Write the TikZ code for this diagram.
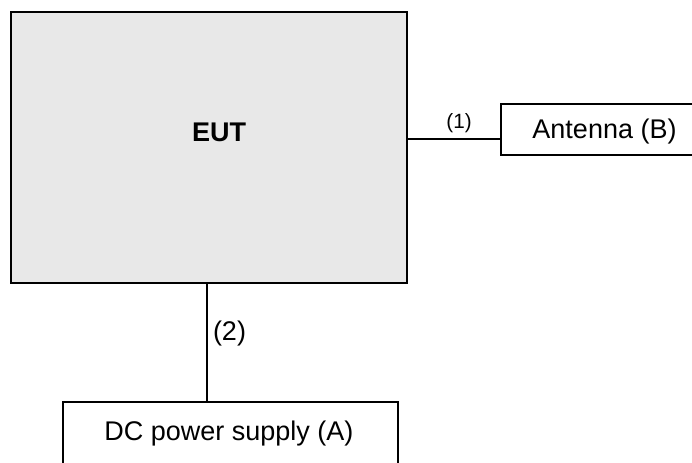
\documentclass[tikz,border=0pt]{standalone}
\usepackage{fontspec}
\setmainfont{Liberation Sans}
\definecolor{eutgray}{HTML}{E8E8E8}
\begin{document}
\begin{tikzpicture}[x=0.75pt,y=-0.75pt,
  box/.style={draw=black, line width=1.1pt, inner sep=0pt, outer sep=0pt, anchor=north west},
  wire/.style={draw=black, line width=0.8pt},
  lbl/.style={inner sep=0pt, font=\fontsize{20.25}{24}\selectfont},
  smalllbl/.style={inner sep=0pt, font=\fontsize{15.5}{18}\selectfont}]
\path[use as bounding box] (0,0) rectangle (692,462);
\clip (0,0) rectangle (692,462);
% boxes
\node[box, fill=eutgray, minimum width=297pt, minimum height=203.25pt] (eut) at (11,12) {};
\node[box, minimum width=165pt, minimum height=38.25pt] (ant) at (501,104) {};
\node[box, minimum width=251.25pt, minimum height=90pt] (dc) at (63,402) {};
% texts
\node[lbl, font=\fontsize{20.25}{24}\selectfont\bfseries] (eutt) at (219,132) {EUT};
\node[lbl] (antt) at (604.5,132) {Antenna (B)};
\node[lbl] (dct) at (229,433.5) {DC power supply (A)};
% connectors
\draw[wire] (eut.east |- 0,139) -- (ant.west |- 0,139);
\draw[wire] (eut.south -| 207,0) -- (dc.north -| 207,0);
\node[smalllbl] (l1) at (459,123) {(1)};
\node[lbl] (l2) at (229.5,334) {(2)};
\end{tikzpicture}
\end{document}
